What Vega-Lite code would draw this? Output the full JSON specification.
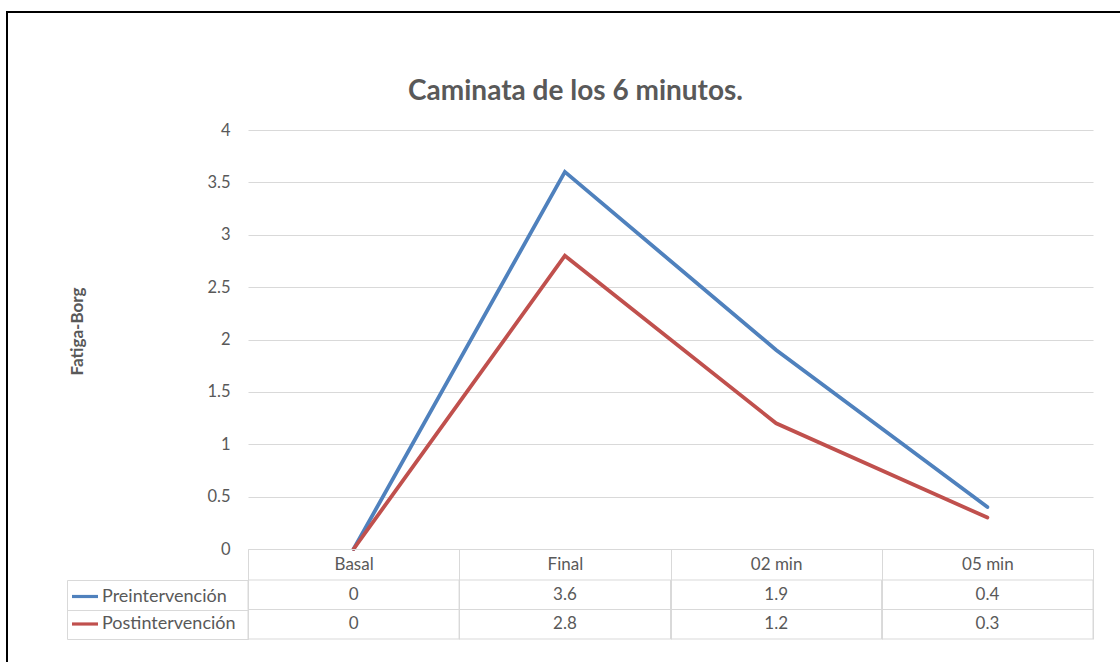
{
  "$schema": "https://vega.github.io/schema/vega-lite/v6.json",
  "autosize": {"type": "none"},
  "padding": {"left": 7, "top": 12, "right": -10, "bottom": -10},
  "width": 1123,
  "height": 660,
  "background": "white",
  "title": {
    "text": "Caminata de los 6 minutos.",
    "frame": "group",
    "anchor": "middle",
    "orient": "top",
    "offset": -116,
    "baseline": "alphabetic",
    "dx": 7,
    "font": "Lato",
    "fontSize": 28,
    "fontWeight": "bold",
    "color": "#595959"
  },
  "config": {
    "view": {"stroke": "#000000", "strokeWidth": 2},
    "font": "Lato",
    "axis": {"labelFont": "Lato", "titleFont": "Lato"},
    "legend": {"labelFont": "Lato"}
  },
  "data": {
    "values": [
      {"momento": "Basal", "grupo": "Preintervención", "valor": 0},
      {"momento": "Final", "grupo": "Preintervención", "valor": 3.6},
      {"momento": "02 min", "grupo": "Preintervención", "valor": 1.9},
      {"momento": "05 min", "grupo": "Preintervención", "valor": 0.4},
      {"momento": "Basal", "grupo": "Postintervención", "valor": 0},
      {"momento": "Final", "grupo": "Postintervención", "valor": 2.8},
      {"momento": "02 min", "grupo": "Postintervención", "valor": 1.2},
      {"momento": "05 min", "grupo": "Postintervención", "valor": 0.3}
    ]
  },
  "encoding": {
    "x": {
      "field": "momento",
      "type": "nominal",
      "sort": ["Basal", "Final", "02 min", "05 min"],
      "scale": {"type": "band", "range": [241, 1086], "paddingInner": 0, "paddingOuter": 0},
      "axis": {
        "orient": "bottom",
        "offset": -123,
        "title": null,
        "grid": false,
        "domain": true,
        "domainColor": "#d9d9d9",
        "ticks": true,
        "tickBand": "extent",
        "tickSize": 90,
        "tickColor": "#d9d9d9",
        "labelAngle": 0,
        "labelPadding": -74.5,
        "labelBaseline": "middle",
        "labelFontSize": 17,
        "labelColor": "#595959"
      }
    }
  },
  "layer": [
    {
      "mark": {"type": "rect", "fillOpacity": 0, "stroke": "#d9d9d9", "strokeWidth": 1},
      "encoding": {
        "y": {
          "field": "grupo",
          "type": "nominal",
          "sort": ["Preintervención", "Postintervención"],
          "scale": {"type": "band", "domain": ["Preintervención", "Postintervención"], "range": [568, 627], "paddingInner": 0, "paddingOuter": 0},
          "axis": {"orient": "left", "offset": -60, "title": null, "labels": false, "ticks": false, "grid": false, "domain": true, "domainColor": "#d9d9d9"}
        }
      }
    },
    {
      "mark": {"type": "text", "fontSize": 17, "color": "#595959", "align": "center", "baseline": "middle"},
      "encoding": {
        "y": {
          "field": "grupo",
          "type": "nominal",
          "sort": ["Preintervención", "Postintervención"],
          "scale": {"type": "band", "domain": ["Preintervención", "Postintervención"], "range": [568, 627], "paddingInner": 0, "paddingOuter": 0},
          "axis": {"orient": "left", "offset": -241, "title": null, "labels": false, "grid": false, "domain": true, "domainColor": "#d9d9d9", "ticks": true, "tickBand": "extent", "tickSize": 181, "tickColor": "#d9d9d9"}
        },
        "text": {"field": "valor", "type": "quantitative", "format": ".1~f"}
      }
    },
    {
      "mark": {"type": "line", "strokeWidth": 3.8, "strokeCap": "round"},
      "encoding": {
        "y": {
          "field": "valor",
          "type": "quantitative",
          "scale": {"domain": [0, 4], "range": [537, 118], "nice": false},
          "axis": {
            "orient": "left",
            "offset": -241,
            "values": [0, 0.5, 1, 1.5, 2, 2.5, 3, 3.5, 4],
            "format": "~g",
            "grid": true,
            "gridColor": "#d9d9d9",
            "domain": false,
            "ticks": false,
            "labelPadding": 18,
            "labelFontSize": 16.5,
            "labelColor": "#595959",
            "title": "Fatiga-Borg",
            "titleFontSize": 17,
            "titleFontWeight": "bold",
            "titleColor": "#595959",
            "titlePadding": 120,
            "titleY": 319
          }
        },
        "color": {
          "field": "grupo",
          "type": "nominal",
          "scale": {"domain": ["Preintervención", "Postintervención"], "range": ["#4F81BD", "#C0504D"]},
          "legend": {
            "orient": "none",
            "legendX": 63,
            "legendY": 569.5,
            "title": null,
            "symbolType": "stroke",
            "symbolSize": 676,
            "symbolStrokeWidth": 3.2,
            "labelFontSize": 18,
            "labelColor": "#595959",
            "labelOffset": 2,
            "rowPadding": 3.5,
            "padding": 0
          }
        }
      }
    }
  ],
  "resolve": {"scale": {"y": "independent"}, "axis": {"y": "independent"}}
}
